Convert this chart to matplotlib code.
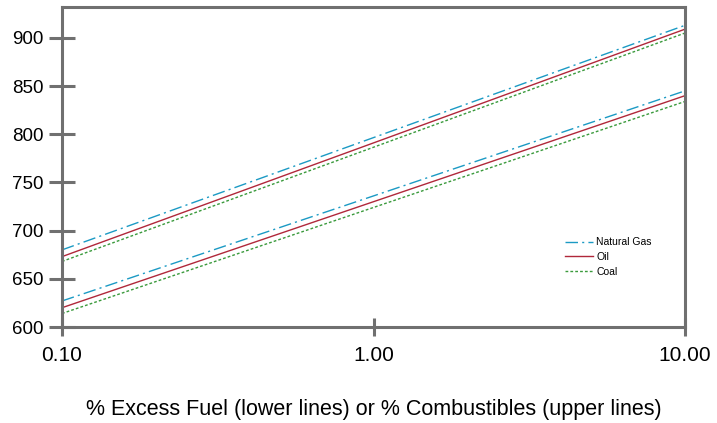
import matplotlib
matplotlib.use("Agg")
import matplotlib.pyplot as plt

plt.rcParams['font.family'] = ['Liberation Sans', 'DejaVu Sans']

x = [0.1, 10.0]
# upper lines (% combustibles)
gas_upper = [680, 913]
oil_upper = [673, 909]
coal_upper = [668, 905]
# lower lines (% excess fuel)
gas_lower = [627, 845]
oil_lower = [620, 840]
coal_lower = [614, 834]

yticks = [600, 650, 700, 750, 800, 850, 900]
xticks = [0.1, 1.0, 10.0]
xticklabels = ['0.10', '1.00', '10.00']

gas_c = '#1b9ac4'
oil_c = '#b0283a'
coal_c = '#3a9a3c'
gas_ls = (0, (9, 3, 1.5, 3))
coal_ls = (0, (2, 1.5))

fig = plt.figure(figsize=(7.17, 4.23), dpi=100)
ax = fig.add_axes([62/717, 1 - 327/423, (685-62)/717, (327-7)/423])

ax.plot(x, gas_upper, color=gas_c, lw=1, linestyle=gas_ls, label='Natural Gas')
ax.plot(x, oil_upper, color=oil_c, lw=1, label='Oil')
ax.plot(x, coal_upper, color=coal_c, lw=1, linestyle=coal_ls, label='Coal')
ax.plot(x, gas_lower, color=gas_c, lw=1, linestyle=gas_ls)
ax.plot(x, oil_lower, color=oil_c, lw=1)
ax.plot(x, coal_lower, color=coal_c, lw=1, linestyle=coal_ls)

ax.set_xscale('log')
ax.set_xlim(0.1, 10)
ax.set_ylim(600, 932)
ax.set_xticks(xticks)
ax.set_xticklabels(xticklabels)
ax.minorticks_off()
ax.set_yticks(yticks)

for s in ax.spines.values():
    s.set_color('#707070')
    s.set_linewidth(2.2)
ax.tick_params(axis='y', direction='inout', length=19, width=2.2, color='#707070',
               labelsize=13.5, pad=4)
ax.tick_params(axis='x', direction='inout', length=13, width=2.2, color='#707070',
               labelsize=15, pad=7)

ax.set_xlabel('% Excess Fuel (lower lines) or % Combustibles (upper lines)', fontsize=15.5, labelpad=25)

ax.legend(loc='upper left', bbox_to_anchor=(0.807, 0.28), frameon=False, fontsize=7.5,
          handlelength=2.7, handletextpad=0.3, labelspacing=0.45, borderpad=0, borderaxespad=0)

fig.savefig('out.png', dpi=100)
